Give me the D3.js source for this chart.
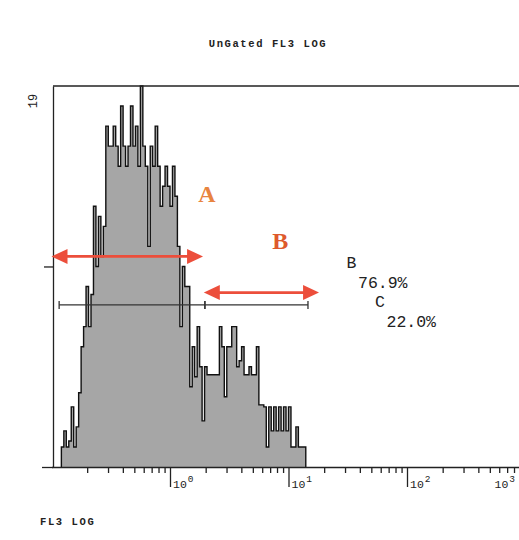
<!DOCTYPE html>
<html>
<head>
<meta charset="utf-8">
<script src="https://cdn.jsdelivr.net/npm/d3@7/dist/d3.min.js"></script>
<style>
  html, body { margin: 0; padding: 0; background: #ffffff; }
  svg { display: block; }
</style>
</head>
<body>
<div id="chart"></div>
<script>
// ---------------- DATA ----------------
const chartTitle = "UnGated FL3 LOG";
const xAxisTitle = "FL3 LOG";
const yMaxLabel = "19";
const yMax = 19;
// histogram channels: 48 channels per decade, starting at 10^-1
const channelsPerDecade = 48;
const firstChannel = 4;
const counts = [
  1.0, 1.8, 1.0, 1.3, 3.0, 1.0, 2.0, 3.7, 6.0, 7.0,
  9.0, 7.0, 8.6, 13, 10, 12.5, 10.5, 12, 17, 16,
  16, 17, 16, 15, 18, 16, 15, 16, 18, 16,
  17, 15, 19, 16, 15, 11, 16, 15, 17, 15,
  13, 14, 15, 14, 13, 15, 13.5, 11, 7, 10,
  9, 9, 4, 6, 4.5, 7, 5, 2.3, 5, 4.6,
  4.6, 4.6, 4.6, 4.6, 7, 6, 3.5, 6, 6, 7,
  7, 5, 5.3, 6, 4.6, 4.6, 5, 4.6, 4.6, 6,
  3.1, 3.1, 3.0, 1.0, 3, 1.8, 3, 1.8, 3, 1.8,
  3, 1.8, 3, 1.0, 1.0, 2, 1.0, 1.0, 1.0
];
const majorTicks = [1, 10, 100, 1000];
const majorTickLabels = [["10", "0"], ["10", "1"], ["10", "2"], ["10", "3"]];
const minorMultipliers = [2, 3, 4, 5, 6, 7, 8, 9];
const minorDecades = [0.1, 1, 10, 100];
const yTicks = [0, 10];
// marker gates (in FL3 units) and their result texts
const gateNames = ["B", "C"];
const gateFrom = [0.116, 1.97];
const gateTo = [1.97, 14.6];
const gateLevel = 8.08;
const gatePercents = ["76.9%", "22.0%"];
// red annotation arrows
const arrowNames = ["A", "B"];
const arrowFrom = [0.1, 1.93];
const arrowTo = [1.9, 18.1];
const arrowLevel = [10.5, 8.7];
const arrowLabelX = [2.05, 8.5];
const arrowLabelY = [13.2, 10.85];

// ---------------- LAYOUT ----------------
const W = 519, H = 540;
const plotLeft = 53, plotTop = 86, plotBottom = 467;
const svg = d3.select("#chart").append("svg").attr("width", W).attr("height", H);

const x = d3.scaleLog().domain([0.1, 1000]).range([51.5, 525.5]);
const y = d3.scaleLinear().domain([0, yMax]).range([plotBottom, plotTop]);

const mono = "'Liberation Mono', 'DejaVu Sans Mono', monospace";
const serif = "'Liberation Serif', 'DejaVu Serif', serif";

// title
svg.append("text")
  .attr("x", 268).attr("y", 47)
  .attr("text-anchor", "middle")
  .attr("font-family", mono).attr("font-weight", "bold")
  .attr("font-size", 10.5).attr("letter-spacing", 1.6)
  .attr("fill", "#222")
  .text(chartTitle);

// x axis title
svg.append("text")
  .attr("x", 40).attr("y", 525)
  .attr("font-family", mono).attr("font-weight", "bold")
  .attr("font-size", 10.5).attr("letter-spacing", 1.6)
  .attr("fill", "#222")
  .text(xAxisTitle);

// y max label (rotated)
svg.append("text")
  .attr("transform", `translate(37, ${plotTop + 15}) rotate(-90)`)
  .attr("text-anchor", "middle")
  .attr("font-family", mono)
  .attr("font-size", 12)
  .attr("fill", "#222")
  .text(yMaxLabel);

// ---------------- HISTOGRAM ----------------
const edge = i => 0.1 * Math.pow(10, (firstChannel + i) / channelsPerDecade);
const pts = counts.map((c, i) => ({ x: edge(i), c }));
pts.push({ x: edge(counts.length), c: counts[counts.length - 1] });

const area = d3.area()
  .x(d => x(d.x)).y0(y(0)).y1(d => y(d.c))
  .curve(d3.curveStepAfter);
svg.append("path").datum(pts)
  .attr("d", area)
  .attr("fill", "#a6a6a6");

const outlinePts = [{ x: edge(0), c: 0 }, ...pts, { x: edge(counts.length), c: 0 }];
const line = d3.line()
  .x(d => x(d.x)).y(d => y(d.c))
  .curve(d3.curveStepAfter);
svg.append("path").datum(outlinePts)
  .attr("d", line)
  .attr("fill", "none")
  .attr("stroke", "#111")
  .attr("stroke-width", 1.4);

// ---------------- AXES / FRAME ----------------
// top frame line
svg.append("line")
  .attr("x1", plotLeft).attr("x2", W).attr("y1", plotTop).attr("y2", plotTop)
  .attr("stroke", "#222").attr("stroke-width", 1.3);

const minorVals = [];
minorDecades.forEach(d => minorMultipliers.forEach(m => minorVals.push(d * m)));

const xMinor = d3.axisBottom(x).tickValues(minorVals).tickSize(6).tickSizeOuter(0).tickFormat("");
const gx = svg.append("g").attr("transform", `translate(0, ${plotBottom})`).call(xMinor);
gx.selectAll("path, line").attr("stroke", "#222").attr("stroke-width", 1.3);

const xMajor = d3.axisBottom(x).tickValues(majorTicks).tickSize(20).tickSizeOuter(0).tickFormat("");
const gx2 = svg.append("g").attr("transform", `translate(0, ${plotBottom})`).call(xMajor);
gx2.select(".domain").remove();
gx2.selectAll("line").attr("stroke", "#222").attr("stroke-width", 1.3);

// major tick labels with superscripts
majorTicks.forEach((v, i) => {
  const px = x(v);
  const t = svg.append("text")
    .attr("font-family", mono).attr("font-size", 11.5).attr("fill", "#222")
    .attr("y", plotBottom + 21);
  if (px + 30 > W) {
    t.attr("x", W - 4).attr("text-anchor", "end");
  } else {
    t.attr("x", px + 3);
  }
  t.append("tspan").text(majorTickLabels[i][0]);
  t.append("tspan").attr("dy", -6).attr("font-size", 9.5).attr("dx", 1).text(majorTickLabels[i][1]);
});

const yAxis = d3.axisLeft(y).tickValues(yTicks).tickSize(9).tickSizeOuter(0).tickFormat("");
const gy = svg.append("g").attr("transform", `translate(${plotLeft}, 0)`).call(yAxis);
gy.selectAll("path, line").attr("stroke", "#222").attr("stroke-width", 1.3);
gy.selectAll(".tick line").attr("x1", 0);
gy.select(".tick:first-of-type line").attr("x2", -11);

// ---------------- GATE MARKERS ----------------
gateNames.forEach((g, i) => {
  const gy0 = y(gateLevel);
  const gm = svg.append("g").attr("stroke", "#333").attr("stroke-width", 1.3);
  gm.append("line").attr("x1", x(gateFrom[i])).attr("x2", x(gateTo[i])).attr("y1", gy0).attr("y2", gy0);
  gm.append("line").attr("x1", x(gateFrom[i])).attr("x2", x(gateFrom[i])).attr("y1", gy0 - 4).attr("y2", gy0 + 4);
  gm.append("line").attr("x1", x(gateTo[i])).attr("x2", x(gateTo[i])).attr("y1", gy0 - 4).attr("y2", gy0 + 4);
});

// statistics text
const statX = [346.5, 375];
const statY = [268, 307];
gateNames.forEach((g, i) => {
  svg.append("text").attr("x", statX[i]).attr("y", statY[i])
    .attr("font-family", mono).attr("font-size", 16.5).attr("fill", "#222").text(g);
  svg.append("text").attr("x", statX[i] + 11.5).attr("y", statY[i] + 19.5)
    .attr("font-family", mono).attr("font-size", 16.5).attr("fill", "#222").text(gatePercents[i]);
});

// ---------------- RED ARROWS ----------------
const arrowColor = "#ec4e3b";
const headLen = 16, headHalf = 7.5;
arrowNames.forEach((a, i) => {
  const x1 = x(arrowFrom[i]), x2 = x(arrowTo[i]), ay = y(arrowLevel[i]);
  svg.append("line")
    .attr("x1", x1 + headLen - 2).attr("x2", x2 - headLen + 2)
    .attr("y1", ay).attr("y2", ay)
    .attr("stroke", arrowColor).attr("stroke-width", 2.8);
  svg.append("path")
    .attr("d", `M${x1},${ay} L${x1 + headLen},${ay - headHalf} L${x1 + headLen},${ay + headHalf} Z`)
    .attr("fill", arrowColor);
  svg.append("path")
    .attr("d", `M${x2},${ay} L${x2 - headLen},${ay - headHalf} L${x2 - headLen},${ay + headHalf} Z`)
    .attr("fill", arrowColor);
});

// arrow letters
const letterColors = ["#e8843f", "#de5a2c"];
arrowNames.forEach((a, i) => {
  svg.append("text")
    .attr("x", x(arrowLabelX[i])).attr("y", y(arrowLabelY[i]))
    .attr("text-anchor", "middle")
    .attr("font-family", serif).attr("font-weight", "bold")
    .attr("font-size", 24).attr("fill", letterColors[i])
    .text(a);
});
</script>
</body>
</html>
